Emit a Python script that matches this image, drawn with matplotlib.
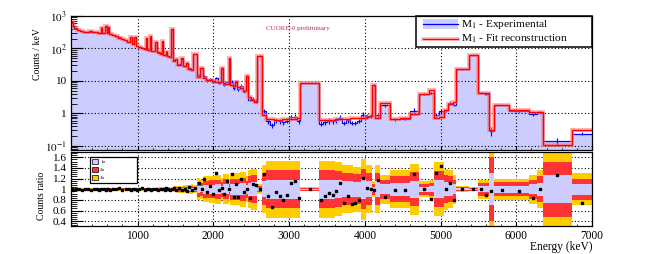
import numpy as np
import matplotlib
matplotlib.use("Agg")
import matplotlib.pyplot as plt
from matplotlib.patches import Rectangle
from matplotlib.ticker import MultipleLocator, FixedLocator, NullFormatter

plt.rcParams['font.family'] = ['Liberation Serif', 'DejaVu Serif']
plt.rcParams['mathtext.fontset'] = 'stix'

# bin edges in keV
edges = [120, 140, 160, 200, 240, 280, 320, 360, 400, 440, 480, 510, 530, 570, 590, 605,
         620, 660, 700, 740, 780, 820, 860, 905, 925, 955, 975, 1000, 1040, 1080, 1110,
         1130, 1165, 1180, 1230, 1250, 1290, 1320, 1340, 1370, 1385, 1410, 1440, 1470,
         1495, 1520, 1575, 1600, 1640, 1660, 1700, 1735, 1780, 1830, 1860, 1900, 1940,
         1980, 2020, 2060, 2100, 2125, 2160, 2200, 2220, 2260, 2290, 2310, 2350, 2390,
         2430, 2460, 2500, 2540, 2580, 2640, 2690, 2745, 2800, 2850, 2900, 2950, 3000,
         3050, 3100, 3150, 3400, 3450, 3500, 3550, 3600, 3650, 3700, 3750, 3800, 3850,
         3900, 3950, 4010, 4060, 4100, 4140, 4200, 4330, 4460, 4600, 4710, 4850, 4910,
         4980, 5040, 5100, 5160, 5200, 5370, 5500, 5570, 5640, 5700, 5910, 6170, 6280,
         6350, 6730, 7000]

# fit reconstruction (counts / keV)
fit = [650, 480, 420, 370, 340, 330, 328, 335, 330, 318, 305, 440, 295, 480, 290, 450,
       275, 255, 235, 215, 195, 178, 160, 228, 140, 220, 118, 108, 100, 95, 205,
       88, 235, 82, 160, 76, 70, 172, 62, 80, 58, 55, 400,
       42, 48, 32, 50, 28, 36, 24, 22, 66, 13.5, 25, 12, 11,
       10.5, 10, 9.5, 9, 25, 8.5, 8, 50, 7.5, 7, 9, 6.5, 6,
       5, 14.5, 3.2, 2.6, 2.3, 60, 0.9, 0.68, 0.66, 0.65, 0.65, 0.66, 0.67,
       0.68, 0.69, 0.7, 8.7, 0.62, 0.63, 0.64, 0.65, 0.66, 0.67, 0.68, 0.69, 0.70,
       0.71, 0.72, 0.75, 0.8, 0.85, 7.6, 0.75, 2.1, 0.67, 0.7, 0.95, 4.0, 5.2,
       0.7, 0.8, 1.25, 1.9, 2.3, 23, 63, 4.4, 4.4, 0.3, 1.8, 1.25, 1.12,
       1.1, 0.11, 0.32]

# experimental / fit
ratio = [1.00, 0.99, 1.01, 1.00, 0.99, 1.01, 1.00, 0.98, 1.01, 1.00, 0.99, 1.01, 1.00, 0.99, 1.01, 1.00,
         0.99, 1.01, 1.00, 1.02, 0.99, 1.00, 1.01, 0.99, 1.00, 1.01, 0.99, 1.00, 1.02, 0.99, 1.00,
         1.01, 0.99, 1.00, 1.01, 0.98, 1.01, 1.00, 0.99, 1.02, 1.00, 0.98, 1.00,
         1.02, 0.99, 1.03, 0.98, 1.01, 0.97, 1.04, 0.99, 1.02, 1.11, 1.00, 1.19, 0.95,
         1.06, 0.92, 1.30, 0.98, 1.02, 0.91, 1.15, 1.00, 1.28, 0.86, 1.10, 0.85, 1.20,
         0.95, 1.00, 0.84, 1.10, 1.08, 1.00, 1.28, 0.88, 0.66, 0.94, 0.88, 0.80, 0.90,
         1.12, 1.16, 0.84, 1.00, 0.79, 0.88, 0.93, 0.90, 0.96, 1.11, 0.74, 0.88, 0.72,
         0.74, 0.80, 1.22, 1.02, 1.00, 0.98, 1.17, 0.85, 0.98, 0.99, 1.29, 1.00, 0.82,
         1.30, 1.44, 1.00, 1.12, 0.80, 1.00, 1.00, 1.00, 0.89, 0.97, 0.98, 0.97, 0.83,
         1.00, 1.27, 0.74]

# relative 1 sigma of the ratio
sigma = [0.008, 0.008, 0.007, 0.007, 0.007, 0.007, 0.007, 0.007, 0.007, 0.007, 0.008, 0.007, 0.007, 0.007, 0.009, 0.008,
         0.008, 0.008, 0.008, 0.008, 0.009, 0.009, 0.009, 0.009, 0.01, 0.009, 0.01, 0.01, 0.01, 0.011, 0.01,
         0.011, 0.01, 0.011, 0.011, 0.012, 0.012, 0.011, 0.013, 0.014, 0.014, 0.015, 0.008,
         0.02, 0.02, 0.022, 0.022, 0.025, 0.025, 0.028, 0.03, 0.025, 0.07, 0.06, 0.08, 0.08,
         0.085, 0.085, 0.09, 0.09, 0.07, 0.095, 0.095, 0.05, 0.1, 0.1, 0.1, 0.1, 0.11,
         0.11, 0.08, 0.12, 0.13, 0.13, 0.03, 0.15, 0.18, 0.18, 0.18, 0.18, 0.18, 0.18,
         0.18, 0.18, 0.18, 0.013, 0.18, 0.18, 0.18, 0.18, 0.17, 0.17, 0.15, 0.15, 0.15,
         0.14, 0.14, 0.19, 0.15, 0.15, 0.05, 0.15, 0.09, 0.12, 0.12, 0.16, 0.05, 0.06,
         0.17, 0.17, 0.13, 0.12, 0.09, 0.02, 0.012, 0.06, 0.06, 0.3, 0.065, 0.065, 0.09,
         0.12, 0.26, 0.1]

edges = np.array(edges, dtype=float)
fit = np.array(fit, dtype=float)
ratio = np.array(ratio)
sigma = np.array(sigma)
expd = fit * ratio
centers = 0.5 * (edges[:-1] + edges[1:])

lav = '#ccccff'
red2 = '#ff3333'
gold = '#ffcc00'
dot = (0, (1, 2))

fig = plt.figure(figsize=(6.64, 2.54), dpi=100)
ax = fig.add_axes([71/664, 1 - 150/254, 521/664, 134/254])
ax2 = fig.add_axes([71/664, 1 - 226/254, 521/664, 74/254])

# top panel
ax.set_yscale('log')
ax.set_xlim(120, 7000)
ax.set_ylim(0.075, 1000)
ax.stairs(expd, edges, baseline=1e-3, fill=True, color=lav, zorder=1)
for x in range(1000, 7000, 1000):
    ax.axvline(x, color='k', lw=0.8, ls=dot, zorder=2)
for y in [0.1, 1, 10, 100]:
    ax.axhline(y, color='k', lw=0.8, ls=dot, zorder=2)
ax.errorbar(centers, expd, yerr=expd * sigma, fmt='none', ecolor='#0000ff', elinewidth=0.8, zorder=3)
ax.stairs(expd, edges, baseline=None, color='#0000ff', lw=0.9, zorder=3)
ax.stairs(fit, edges, baseline=None, color='#ff8080', lw=2.8, alpha=0.6, zorder=4)
ax.stairs(fit, edges, baseline=None, color='#ff0000', lw=1.0, zorder=5)

ax.yaxis.set_major_locator(FixedLocator([0.1, 1, 10, 100, 1000]))
ax.set_yticklabels(['$10^{-1}$', '1', '10', '$10^{2}$', '$10^{3}$'])
ax.yaxis.set_minor_locator(FixedLocator([m * 10.0**d for d in range(-2, 3) for m in range(2, 10)]))
ax.yaxis.set_minor_formatter(NullFormatter())
ax.xaxis.set_major_locator(MultipleLocator(1000))
ax.xaxis.set_minor_locator(MultipleLocator(200))
ax.set_xticklabels([])
ax.tick_params(axis='y', which='major', direction='in', length=8.5, width=0.8, labelsize=8, pad=3)
ax.tick_params(axis='y', which='minor', direction='in', length=4.5, width=0.6)
ax.tick_params(axis='x', which='major', direction='in', length=3, width=0.8)
ax.tick_params(axis='x', which='minor', direction='in', length=1.8, width=0.6)

ax.text(0.436, 0.908, 'CUORE-0 preliminary', transform=ax.transAxes, fontsize=5,
        color='#c03050', ha='center', va='center', zorder=6)

# legend top
ax.add_patch(Rectangle((0.662, 0.769), 0.338, 0.231, transform=ax.transAxes,
                       facecolor='white', edgecolor='black', lw=1.1, zorder=10, clip_on=False))
ax.add_patch(Rectangle((0.676, 0.903), 0.067, 0.074, transform=ax.transAxes,
                       facecolor=lav, edgecolor='none', zorder=11))
ax.plot([0.676, 0.743], [0.940, 0.940], transform=ax.transAxes, color='#0000ff', lw=0.9, zorder=12)
ax.plot([0.676, 0.743], [0.828, 0.828], transform=ax.transAxes, color='#ff8080', lw=2.6, alpha=0.6, zorder=11)
ax.plot([0.676, 0.743], [0.828, 0.828], transform=ax.transAxes, color='#ff0000', lw=0.9, zorder=12)
ax.text(0.749, 0.940, 'M$_{1}$ - Experimental', transform=ax.transAxes, fontsize=8.2,
        ha='left', va='center', zorder=12)
ax.text(0.749, 0.828, 'M$_{1}$ - Fit reconstruction', transform=ax.transAxes, fontsize=8.2,
        ha='left', va='center', zorder=12)

# bottom panel
ax2.set_xlim(120, 7000)
ax2.set_ylim(0.31, 1.70)
for x in range(1000, 7000, 1000):
    ax2.axvline(x, color='k', lw=0.8, ls=dot, zorder=0.5)
for y in [0.4, 0.6, 0.8, 1.0, 1.2, 1.4, 1.6]:
    ax2.axhline(y, color='k', lw=0.8, ls=dot, zorder=0.5)
for k, c in [(3, gold), (2, red2), (1, lav)]:
    ax2.stairs(1 + k * sigma, edges, baseline=1 - k * sigma, fill=True, color=c, lw=0, zorder=2)
ax2.plot(centers, ratio, ls='none', marker='s', ms=1.6, color='k', zorder=6)

ax2.xaxis.set_major_locator(MultipleLocator(1000))
ax2.xaxis.set_minor_locator(MultipleLocator(200))
ax2.yaxis.set_major_locator(FixedLocator([0.4, 0.6, 0.8, 1.0, 1.2, 1.4, 1.6]))
ax2.set_yticklabels(['0.4', '0.6', '0.8', '1', '1.2', '1.4', '1.6'])
ax2.yaxis.set_minor_locator(MultipleLocator(0.04))
ax2.tick_params(axis='y', which='major', direction='in', length=8.5, width=0.8, labelsize=8, pad=3)
ax2.tick_params(axis='y', which='minor', direction='in', length=4.5, width=0.6)
ax2.tick_params(axis='x', which='major', direction='in', length=3, width=0.8, labelsize=8.3, pad=3)
ax2.tick_params(axis='x', which='minor', direction='in', length=1.8, width=0.6)

# legend bottom
ax2.add_patch(Rectangle((0.036, 0.585), 0.091, 0.351, transform=ax2.transAxes,
                        facecolor='white', edgecolor='black', lw=0.9, zorder=10))
for yy, c, lab in [(0.868, lav, '1σ'), (0.761, red2, '2σ'), (0.653, gold, '3σ')]:
    ax2.add_patch(Rectangle((0.040, yy - 0.035), 0.012, 0.07, transform=ax2.transAxes,
                            facecolor=c, edgecolor='black', lw=0.5, zorder=11))
    ax2.text(0.056, yy, lab, transform=ax2.transAxes, fontsize=3.5, ha='left', va='center', zorder=11)

for a in (ax, ax2):
    for s in a.spines.values():
        s.set_linewidth(0.9)
        s.set_zorder(20)

fig.text(38/664, 1 - 54/254, 'Counts / keV', rotation=90, ha='center', va='center', fontsize=7)
fig.text(41/664, 1 - 196/254, 'Counts ratio', rotation=90, ha='center', va='center', fontsize=7)
fig.text(592/664, 1 - 247/254, 'Energy (keV)', ha='right', va='center', fontsize=8.3)

fig.savefig('out.png', dpi=100)
